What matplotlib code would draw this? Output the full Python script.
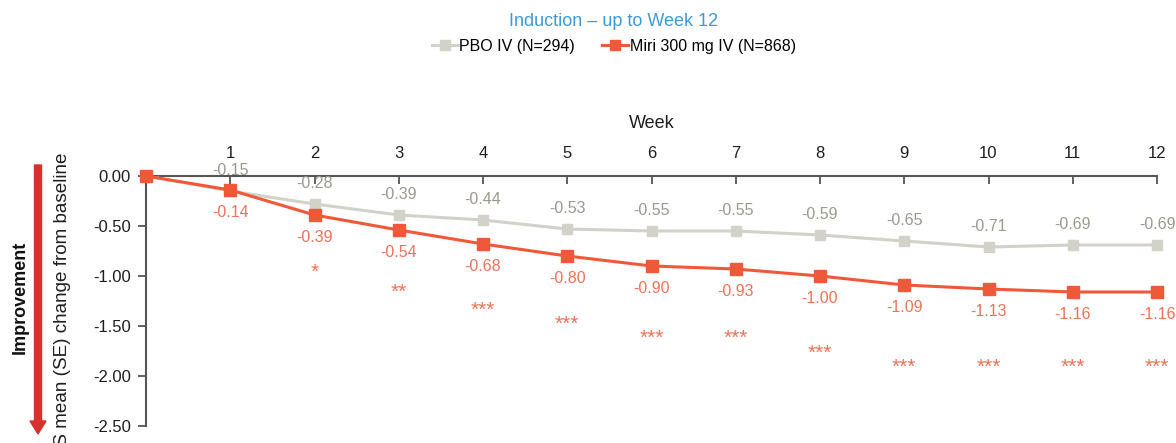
import matplotlib
matplotlib.use("Agg")
import matplotlib.pyplot as plt
from matplotlib.patches import FancyArrow
from matplotlib.lines import Line2D

plt.rcParams['font.family'] = ['Liberation Sans', 'DejaVu Sans']

weeks = [0, 1, 2, 3, 4, 5, 6, 7, 8, 9, 10, 11, 12]
week_labels = ["", "1", "2", "3", "4", "5", "6", "7", "8", "9", "10", "11", "12"]
pbo = [0.00, -0.15, -0.28, -0.39, -0.44, -0.53, -0.55, -0.55, -0.59, -0.65, -0.71, -0.69, -0.69]
miri = [0.00, -0.14, -0.39, -0.54, -0.68, -0.80, -0.90, -0.93, -1.00, -1.09, -1.13, -1.16, -1.16]
pbo_se = [0.00, 0.03, 0.03, 0.03, 0.03, 0.03, 0.03, 0.03, 0.03, 0.03, 0.03, 0.03, 0.03]
signif = ["", "", "*", "**", "***", "***", "***", "***", "***", "***", "***", "***", "***"]
signif_y = [0, 0, -0.96, -1.16, -1.34, -1.48, -1.62, -1.62, -1.77, -1.91, -1.91, -1.91, -1.91]
yticks = [0.0, -0.5, -1.0, -1.5, -2.0, -2.5]

RED = "#F0583A"
RED_TXT = "#EF7256"
GRAY = "#D2D1CA"
GRAY_TXT = "#9C988F"
BLUE = "#3D9AD6"
AXC = "#555555"
TXT = "#1E1E1E"

W, H = 1176, 443
fig = plt.figure(figsize=(W / 100, H / 100), dpi=100)
ax = fig.add_axes([146 / W, 17 / H, (1157 - 146) / W, 250 / H])

ax.errorbar(weeks, pbo, yerr=pbo_se, color=GRAY, lw=2.2, marker="s", ms=7,
            ecolor=GRAY, elinewidth=2, capsize=3, capthick=2, clip_on=False, zorder=3)
ax.plot(weeks, miri, color=RED, lw=2.2, marker="s", ms=8, clip_on=False, zorder=4)

for w, v in zip(weeks[1:], pbo[1:]):
    ax.annotate(f"{v:.2f}", (w, v), xytext=(0, 15), textcoords="offset points",
                ha="center", va="center", fontsize=11.5, color=GRAY_TXT, annotation_clip=False)
for w, v in zip(weeks[1:], miri[1:]):
    ax.annotate(f"{v:.2f}", (w, v), xytext=(0, -16), textcoords="offset points",
                ha="center", va="center", fontsize=11.5, color=RED_TXT, annotation_clip=False)
for w, s, y in zip(weeks, signif, signif_y):
    if s:
        ax.text(w, y, s, ha="center", va="center", fontsize=15, color=RED_TXT)

ax.set_xlim(0, 12)
ax.set_ylim(-2.5, 0)
ax.set_xticks(weeks)
ax.set_xticklabels(week_labels)
ax.set_yticks(yticks)
ax.set_yticklabels([f"{t:.2f}" for t in yticks])
ax.xaxis.set_ticks_position("top")
ax.xaxis.set_label_position("top")
ax.tick_params(axis="x", direction="in", length=6, width=1.3, color=AXC, pad=11,
               labelsize=12, labelcolor=TXT)
ax.tick_params(axis="y", direction="out", length=6, width=1.3, color=AXC, pad=5,
               labelsize=12, labelcolor=TXT)
ax.set_xlabel("Week", fontsize=13, color=TXT, labelpad=13)
for side in ("bottom", "right"):
    ax.spines[side].set_visible(False)
for side in ("top", "left"):
    ax.spines[side].set_color(AXC)
    ax.spines[side].set_linewidth(1.5)
ax.patch.set_alpha(0)

fig.text(614 / W, 1 - 21 / H, "Induction \u2013 up to Week 12", ha="center", va="center",
         fontsize=13, color=BLUE)

handles = [Line2D([], [], color=GRAY, lw=2.2, marker="s", ms=7),
           Line2D([], [], color=RED, lw=2.2, marker="s", ms=7)]
fig.legend(handles, ["PBO IV (N=294)", "Miri 300 mg IV (N=868)"], loc="center",
           bbox_to_anchor=(614 / W, 1 - 46 / H), ncol=2, frameon=False, fontsize=11.5,
           handlelength=1.6, handletextpad=0.1, columnspacing=1.7)

fig.text(63 / W, 1 - 153 / H, "LS mean (SE) change from baseline", rotation=90,
         ha="center", va="top", fontsize=13.6, color=TXT)
fig.text(20 / W, 1 - 297 / H, "Improvement", rotation=90, ha="center", va="center",
         fontsize=13, fontweight="bold", color="#111111")
fig.patches.append(FancyArrow(38 / W, 1 - 165 / H, 0, -(268 - 12) / H, width=7 / W,
                              head_width=16 / W, head_length=13 / H,
                              length_includes_head=False, color="#D8302C",
                              transform=fig.transFigure, figure=fig))

fig.savefig("out.png", dpi=100)
